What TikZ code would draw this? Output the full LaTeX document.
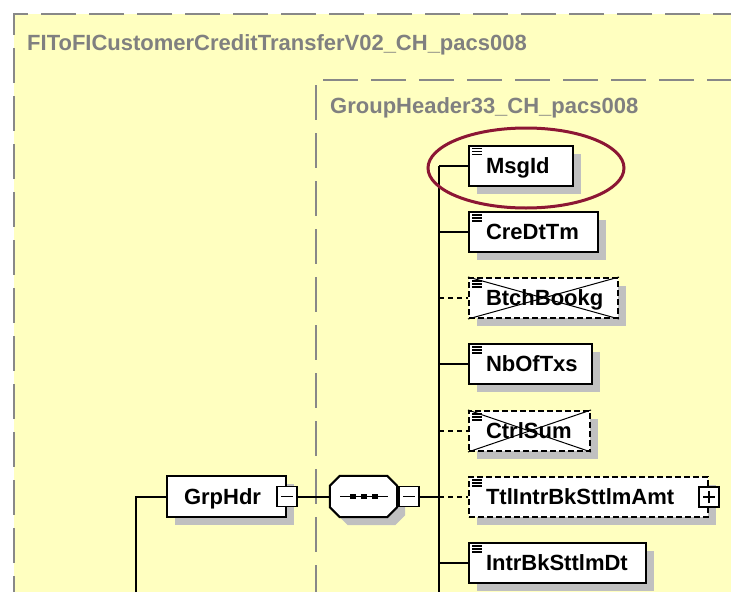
\documentclass[tikz,border=0pt]{standalone}
\usepackage{fontspec}
\setmainfont{Liberation Sans}
\usetikzlibrary{shadows,shapes.geometric}
\definecolor{bgyellow}{RGB}{255,255,192}
\definecolor{framegray}{RGB}{136,136,136}
\definecolor{labgray}{RGB}{128,128,128}
\definecolor{shgray}{RGB}{192,192,192}
\definecolor{hlred}{RGB}{140,22,52}
\tikzset{
  frameline/.style={draw=framegray,line width=2pt,dash pattern=on 35pt off 13pt},
  grouplabel/.style={anchor=base west,inner sep=0pt,text=labgray,font=\bfseries\fontsize{22}{22}\selectfont},
  elem/.style={draw=black,fill=white,line width=2pt,anchor=west,minimum height=40pt,
    inner xsep=17pt,inner ysep=0pt,text height=15.5pt,text depth=0pt,align=left,
    font=\bfseries\fontsize{22}{22}\selectfont,
    general shadow={fill=shgray,shadow xshift=8pt,shadow yshift=-8pt}},
  optelem/.style={elem,dash pattern=on 6pt off 3pt},
  conn/.style={draw=black,line width=2pt},
  optconn/.style={conn,dash pattern=on 5pt off 4pt},
  togglebox/.style={draw=black,fill=white,line width=1.6pt,minimum width=20pt,minimum height=20pt,inner sep=0pt},
  seqbox/.style={minimum width=67pt,minimum height=41pt,inner sep=0pt},
  highlight/.style={ellipse,draw=hlred,line width=3pt,minimum width=196pt,minimum height=80pt,inner sep=0pt},
}
\newcommand\octpath[2]{([xshift=#1+10pt,yshift=-#2]seq.north west) -- ([xshift=#1-10pt,yshift=-#2]seq.north east)
  -- ([xshift=#1,yshift=-#2-10pt]seq.north east) -- ([xshift=#1,yshift=-#2+10pt]seq.south east)
  -- ([xshift=#1-10pt,yshift=-#2]seq.south east) -- ([xshift=#1+10pt,yshift=-#2]seq.south west)
  -- ([xshift=#1,yshift=-#2+10pt]seq.south west) -- ([xshift=#1,yshift=-#2-10pt]seq.north west) -- cycle}
\begin{document}
\begin{tikzpicture}[x=1pt,y=-1pt]
\useasboundingbox (0,0) rectangle (731,592);
\fill[white] (0,0) rectangle (731,592);
\fill[bgyellow] (14,14) rectangle (731,592);
% frames
\draw[frameline,dash phase=17pt] (731,14) -- (14,14) -- (14,592);
\draw[frameline] (323,80) -- (731,80);
\draw[frameline,dash phase=-5pt] (316,80) -- (316,592);
\node[grouplabel] (outerlab) at (27,50) {FIToFICustomerCreditTransferV02\_CH\_pacs008};
\node[grouplabel] (innerlab) at (330,113) {GroupHeader33\_CH\_pacs008};
% coordinates
\coordinate (tt) at (439,165.5);
\coordinate (tb) at (439,592);
\coordinate (gv) at (136,496.5);
\coordinate (gvb) at (136,592);
% elements
\node[elem,text width=70pt] (msgid) at (468,165.5) {MsgId};
\node[elem,text width=95pt] (credttm) at (468,232) {CreDtTm};
\node[optelem,text width=115pt] (btch) at (468,298) {BtchBookg};
\node[elem,text width=89pt] (nbof) at (468,364) {NbOfTxs};
\node[optelem,text width=87pt] (ctrl) at (468,431) {CtrlSum};
\node[optelem,text width=205pt] (ttl) at (468,497) {TtlIntrBkSttlmAmt};
\node[elem,text width=143pt] (intr) at (468,563) {IntrBkSttlmDt};
\node[elem,text width=85pt,minimum height=41pt] (grphdr) at (166,496.5) {GrpHdr};
\node[seqbox] (seq) at (363.5,496.5) {};
\fill[shgray] \octpath{8pt}{8pt};
\filldraw[fill=white,draw=black,line width=2pt] \octpath{0pt}{0pt};
% toggles
\node[togglebox] (grpminus) at (grphdr.east) {};
\node[togglebox,anchor=west] (seqminus) at ([xshift=1pt]seq.east) {};
\node[togglebox] (ttlplus) at (ttl.east) {};
\foreach \n in {grpminus,seqminus}
  \draw[line width=1.4pt] ([xshift=-6pt]\n.center) -- ([xshift=6pt]\n.center);
\draw[line width=1.4pt] ([xshift=-6pt]ttlplus.center) -- ([xshift=6pt]ttlplus.center)
  ([yshift=-6pt]ttlplus.center) -- ([yshift=6pt]ttlplus.center);
% sequence symbol
\draw[line width=1.6pt] ([xshift=-23.5pt]seq.center) -- ([xshift=24.5pt]seq.center);
\foreach \dx in {-10.5,0.5,11.5}
  \fill ([xshift=\dx pt]seq.center) +(-2.7,-2.7) rectangle +(2.7,2.7);
% icons
\foreach \n in {msgid,credttm,btch,nbof,ctrl,ttl,intr}
  \foreach \d in {4,7,10}
    \draw[line width=1.2pt] ([xshift=4pt,yshift=-\d pt]\n.north west) -- ++(10,0);
% crosses on prohibited elements
\foreach \n in {btch,ctrl}
  \draw[line width=1pt] (\n.north west) -- (\n.south east) (\n.south west) -- (\n.north east);
% connectors
\draw[conn] (gvb) -- (gv) -- (grphdr.west);
\draw[conn] (grpminus.east) -- (seq.west);
\draw[conn] (seqminus.east) -- (tt |- seqminus.east);
\draw[conn] (tt) -- (tb);
\foreach \n in {msgid,credttm,nbof,intr}
  \draw[conn] (tt |- \n.west) -- (\n.west);
\foreach \n in {btch,ctrl,ttl}
  \draw[optconn] (tt |- \n.west) -- (\n.west);
% highlight
\node[highlight] (hl) at (526,168) {};
\end{tikzpicture}
\end{document}
